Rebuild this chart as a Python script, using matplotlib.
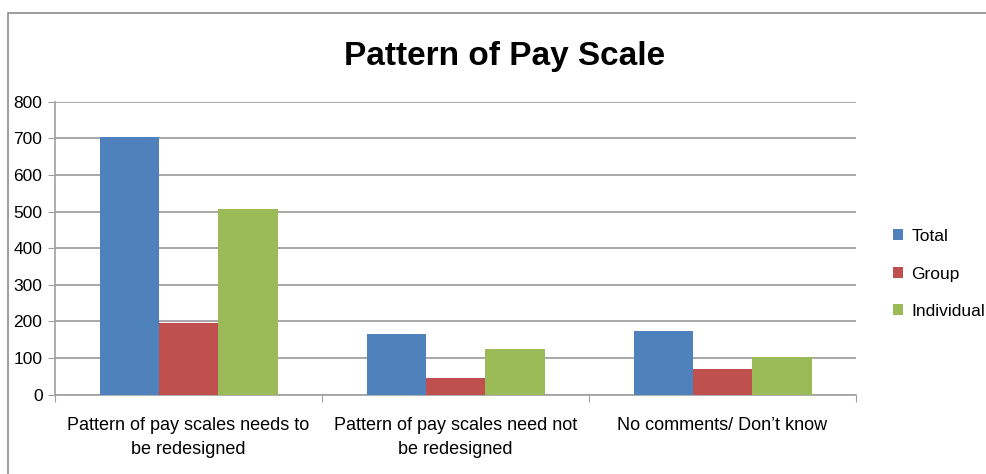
import matplotlib.pyplot as plt
import numpy as np
from matplotlib.patches import Rectangle

plt.rcParams['font.family'] = ['Liberation Sans', 'DejaVu Sans']

categories = ['Pattern of pay scales needs to\nbe redesigned',
              'Pattern of pay scales need not\nbe redesigned',
              'No comments/ Don\u2019t know']
series = ['Total', 'Group', 'Individual']
total = [704, 166, 174]
group = [196, 46, 70]
individual = [507, 125, 103]
colors = ['#4F81BD', '#C0504D', '#9BBB59']
yticks = [0, 100, 200, 300, 400, 500, 600, 700, 800]

fig = plt.figure(figsize=(9.87, 4.74), dpi=100)
ax = fig.add_axes([55 / 987, 1 - 394.7 / 474, (856 - 55) / 987, (394.7 - 101.7) / 474])

# outer chart frame (cut off at right/bottom like the screenshot)
fig.patches.append(Rectangle((8 / 987, -0.1), 1.2, 1.1 - 13 / 474,
                             transform=fig.transFigure, fill=False,
                             edgecolor='#8c8c8c', linewidth=1.2))

x = np.arange(len(categories))
w = 1 / 4.5
for i, (vals, name) in enumerate(zip([total, group, individual], series)):
    ax.bar(x + (i - 1) * w, vals, width=w, color=colors[i], label=name, zorder=3)

ax.set_xlim(-0.5, 2.5)
ax.set_ylim(0, 800)
ax.set_yticks(yticks)
ax.set_yticklabels([str(t) for t in yticks], fontsize=12.5)
ax.yaxis.grid(True, color='#909090', linewidth=1.1, zorder=0)

ax.set_xticks([-0.5, 0.5, 1.5, 2.5])
ax.set_xticklabels([])
ax.tick_params(axis='x', length=5, color='#a0a0a0', direction='out')
ax.tick_params(axis='y', length=5, color='#a0a0a0', direction='out', pad=4)
for i, c in enumerate(categories):
    ax.text(i, -0.075, c, transform=ax.get_xaxis_transform(), ha='center', va='top',
            fontsize=13, linespacing=1.55)

for s in ['top', 'right']:
    ax.spines[s].set_visible(False)
for s in ['left', 'bottom']:
    ax.spines[s].set_color('#a0a0a0')
    ax.spines[s].set_linewidth(1.2)

fig.text(505 / 987, 1 - 56 / 474, 'Pattern of Pay Scale', ha='center', va='center',
         fontsize=24, fontweight='bold')

fig.legend(loc='center left', bbox_to_anchor=(893 / 987, 1 - 274 / 474), frameon=False,
           fontsize=12.5, handlelength=0.6, handleheight=0.6, handletextpad=0.45,
           labelspacing=1.3, borderaxespad=0, borderpad=0)

fig.savefig('out.png', dpi=100)
